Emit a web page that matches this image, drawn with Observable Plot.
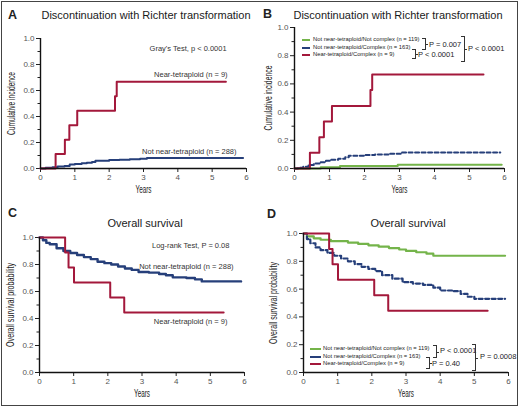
<!DOCTYPE html>
<html><head><meta charset="utf-8">
<script src="https://cdn.jsdelivr.net/npm/d3@7"></script>
<script src="https://cdn.jsdelivr.net/npm/@observablehq/plot@0.6"></script>
<style>
body{margin:0;background:#fff;}
#fig{position:relative;width:520px;height:409px;font-family:"Liberation Sans",Arial,sans-serif;color:#222;overflow:hidden;}
.frame{position:absolute;left:1px;top:1px;width:515px;height:403px;border:1px solid #444;}
.pl{position:absolute;}
.title{position:absolute;font-size:11px;transform:translate(-50%,-50%);white-space:nowrap;color:#1a1a1a;}
.letter{position:absolute;font-size:12.5px;font-weight:bold;transform:translateY(-50%);font-family:Arial,"Liberation Sans",sans-serif;}
.leg{position:absolute;font-size:5.8px;white-space:nowrap;transform:translateY(-50%);line-height:1;}
.sw{position:absolute;height:0;}
.br{position:absolute;border:1px solid #333;border-left:none;width:3px;}
.br::after{content:"";position:absolute;left:3px;top:50%;width:3px;border-top:1px solid #333;}
.pv{position:absolute;font-size:7.5px;white-space:nowrap;transform:translateY(-50%);line-height:1;}
</style></head>
<body><div id="fig"><div class="frame"></div></div>
<script>
// ---------- data ----------
const xTicks = [0, 1, 2, 3, 4, 5, 6];
const majorY = [0, 0.2, 0.4, 0.6, 0.8, 1.0];
const minorY = [0.1, 0.3, 0.5, 0.7, 0.9];

// Cumulative incidence of discontinuation with Richter transformation
const richterNearT = [0, 0.44, 0.71, 0.84, 1.07, 2.17, 2.22, 5.40];
const richterNearV = [0, 0.111, 0.222, 0.333, 0.444, 0.556, 0.667, 0.667];
const richterNotT = [0, 0.15, 0.35, 0.5, 0.7, 0.85, 1.0, 1.2, 1.35, 1.5, 1.6, 2.0, 2.3, 2.6, 2.9, 3.1, 5.9];
const richterNotV = [0, 0.005, 0.01, 0.015, 0.02, 0.03, 0.035, 0.04, 0.045, 0.05, 0.06, 0.065, 0.068, 0.072, 0.075, 0.08, 0.08];
const richterCxT = [0, 0.1, 0.25, 0.4, 0.55, 0.75, 0.9, 1.05, 1.25, 1.45, 1.55, 2.0, 2.3, 2.7, 3.05, 5.88];
const richterCxV = [0, 0.006, 0.012, 0.025, 0.035, 0.045, 0.055, 0.062, 0.07, 0.08, 0.09, 0.095, 0.1, 0.105, 0.113, 0.113];
const richterNcT = [0, 0.75, 1.3, 2.95, 5.92];
const richterNcV = [0, 0.008, 0.017, 0.026, 0.026];

// Overall survival
const osNearT = [0, 0.75, 0.85, 1.01, 2.07, 2.48, 5.39];
const osNearV = [1, 0.889, 0.778, 0.667, 0.556, 0.444, 0.444];
const osNotT = [0, 0.1, 0.2, 0.3, 0.5, 0.7, 0.9, 1.1, 1.3, 1.5, 1.7, 1.9, 2.1, 2.3, 2.5, 2.7, 2.9, 3.2, 3.5, 3.7, 3.9, 4.3, 4.55, 4.75, 5.9];
const osNotV = [1, 0.98, 0.96, 0.95, 0.92, 0.9, 0.885, 0.87, 0.855, 0.84, 0.82, 0.81, 0.8, 0.785, 0.77, 0.76, 0.745, 0.74, 0.73, 0.72, 0.705, 0.7, 0.69, 0.675, 0.675];
const osNcT = [0, 0.1, 0.3, 0.5, 0.8, 1.3, 1.6, 1.9, 2.2, 2.5, 2.8, 3.0, 3.3, 3.6, 3.8, 5.9];
const osNcV = [1, 0.98, 0.965, 0.955, 0.945, 0.935, 0.925, 0.915, 0.905, 0.895, 0.885, 0.875, 0.865, 0.855, 0.84, 0.84];
const osCxT = [0, 0.1, 0.2, 0.35, 0.5, 0.7, 0.9, 1.1, 1.3, 1.5, 1.7, 1.9, 2.1, 2.3, 2.6, 2.9, 3.2, 3.5, 3.8, 4.0, 4.4, 4.6, 4.8, 5.0, 5.9];
const osCxV = [1, 0.96, 0.93, 0.9, 0.88, 0.86, 0.84, 0.82, 0.8, 0.78, 0.76, 0.745, 0.73, 0.7, 0.675, 0.65, 0.64, 0.63, 0.61, 0.59, 0.585, 0.565, 0.545, 0.53, 0.53];

const annA = [
  {x: 5.42, y: 0.92, label: "Gray's Test, p < 0.0001"},
  {x: 5.45, y: 0.72, label: "Near-tetraploid (n = 9)"},
  {x: 5.71, y: 0.13, label: "Not near-tetraploid (n = 288)"}
];
const annC = [
  {x: 5.56, y: 0.94, label: "Log-rank Test, P = 0.08"},
  {x: 5.68, y: 0.785, label: "Not near-tetraploid (n = 288)"},
  {x: 5.50, y: 0.378, label: "Near-tetraploid (n = 9)"}
];
const legB = ["Not near-tetraploid/Not complex (n = 119)", "Not near-tetraploid/Complex (n = 163)", "Near-tetraploid/Complex (n = 9)"];
const legD = ["Not near-tetraploid/Not complex (n = 119)", "Not near-tetraploid/Complex (n = 163)", "Near-tetraploid/Complex (n = 9)"];
const pB = ["P = 0.007", "P < 0.0001", "P < 0.0001"];
const pD = ["P < 0.0001", "P = 0.40", "P = 0.0008"];

const RED = "#a3183b", NAVY = "#263f7a", GREEN = "#74b44a";
const pts = (t, v) => t.map((x, i) => ({x, y: v[i]}));

// ---------- panels ----------
const fig = document.getElementById("fig");
function condense(svg, sel, len, size) {
  svg.querySelectorAll(sel).forEach(t => {
    t.style.fontSize = size + "px";
    t.setAttribute("textLength", len);
    t.setAttribute("lengthAdjust", "spacingAndGlyphs");
  });
}
function panel(c) {
  const marks = [
    Plot.axisY(minorY, {tickSize: 2.5, tickFormat: () => "", label: null, stroke: "#222"}),
    Plot.axisY(majorY, {tickSize: 4, tickPadding: 2, tickFormat: d3.format(".1f"), fill: "#555", stroke: "#222", label: null}),
    Plot.axisY([], {label: c.ylabel, labelAnchor: "center", labelArrow: "none", labelOffset: c.ylo, fill: "#222"}),
    Plot.axisX(xTicks, {tickSize: 4, tickPadding: 2, fill: "#555", stroke: "#222", label: null}),
    Plot.axisX([], {label: "Years", labelAnchor: "center", labelArrow: "none", labelOffset: 24, fill: "#222"}),
  ];
  for (const s of c.series) {
    marks.push(Plot.line(pts(s.t, s.v), {x: "x", y: "y", curve: "step-after", stroke: s.color,
      strokeWidth: s.w || 2, strokeDasharray: s.dash || null}));
  }
  marks.push(Plot.ruleX([0], {stroke: "#111", strokeWidth: 1.4}));
  marks.push(Plot.ruleY([0], {stroke: "#111", strokeWidth: 1.4}));
  if (c.ann) marks.push(Plot.text(c.ann, {x: "x", y: "y", text: "label", textAnchor: "end", fontSize: 7.5, fill: "#333"}));
  const svg = Plot.plot({
    width: c.w, height: c.h,
    marginLeft: c.ml, marginRight: c.mr, marginTop: c.mt, marginBottom: c.mb,
    x: {domain: [0, 6]}, y: {domain: [0, 1]},
    style: {fontFamily: "Liberation Sans, Arial, sans-serif", fontSize: "8px", color: "#222", background: "transparent", overflow: "visible"},
    marks
  });
  condense(svg, '[aria-label="y-axis label"] text', c.ylen, 10);
  condense(svg, '[aria-label="x-axis label"] text', 16, 10.5);
  const d = document.createElement("div");
  d.className = "pl"; d.style.left = c.left + "px"; d.style.top = c.top + "px";
  d.appendChild(svg);
  fig.appendChild(d);
}

panel({left: 0, top: 0, w: 260, h: 200, ml: 40, mr: 14, mt: 38, mb: 32, ylabel: "Cumulative incidence", ylo: 33, ylen: 63,
  series: [{t: richterNotT, v: richterNotV, color: NAVY}, {t: richterNearT, v: richterNearV, color: RED}], ann: annA});
panel({left: 260, top: 0, w: 260, h: 200, ml: 34, mr: 16, mt: 27, mb: 32, ylabel: "Cumulative incidence", ylo: 29.5, ylen: 65,
  series: [{t: richterNcT, v: richterNcV, color: GREEN}, {t: richterCxT, v: richterCxV, color: NAVY, dash: "4,2.5"},
           {t: richterNearT, v: richterNearV, color: RED}]});
panel({left: 0, top: 200, w: 260, h: 209, ml: 39, mr: 16, mt: 37, mb: 37, ylabel: "Overall survival probability", ylo: 32.5, ylen: 84,
  series: [{t: osNotT, v: osNotV, color: NAVY, w: 2.4}, {t: osNearT, v: osNearV, color: RED}], ann: annC});
panel({left: 260, top: 200, w: 260, h: 209, ml: 43, mr: 12, mt: 33, mb: 37, ylabel: "Overall survival probability", ylo: 33.5, ylen: 82,
  series: [{t: osNcT, v: osNcV, color: GREEN, w: 2.2}, {t: osCxT, v: osCxV, color: NAVY, dash: "4,2.5", w: 2.2},
           {t: osNearT, v: osNearV, color: RED}]});

// ---------- titles, letters ----------
function add(cls, html, x, y, extra) {
  const e = document.createElement("div");
  e.className = cls; e.innerHTML = html;
  e.style.left = x + "px"; e.style.top = y + "px";
  if (extra) Object.assign(e.style, extra);
  fig.appendChild(e);
  return e;
}
add("letter", "A", 8, 15); add("letter", "B", 263, 14); add("letter", "C", 8, 213); add("letter", "D", 267, 214);
add("title", "Discontinuation with Richter transformation", 146, 15);
add("title", "Discontinuation with Richter transformation", 398, 15);
add("title", "Overall survival", 145, 223);
add("title", "Overall survival", 408, 223);

// ---------- legends ----------
const legColors = [GREEN, NAVY, RED];
const legDash = ["solid", "dashed", "solid"];
function legend(labels, x0, x1, xt, ys) {
  labels.forEach((l, i) => {
    add("sw", "", x0, ys[i] - 1, {width: (x1 - x0) + "px", borderTop: "2px " + legDash[i] + " " + legColors[i]});
    add("leg", l, xt, ys[i]);
  });
}
legend(legB, 302, 310, 313, [40, 47.5, 55]);
legend(legD, 310, 321, 323, [349, 356.5, 364]);
function bracket(xr, y0, y1) { add("br", "", xr - 3, y0, {height: (y1 - y0) + "px"}); }
bracket(425, 38, 48); add("pv", pB[0], 429, 44.5);
bracket(415, 49, 57); add("pv", pB[1], 418, 55);
bracket(464, 36, 60); add("pv", pB[2], 468, 48.5);
bracket(436, 345, 356); add("pv", pD[0], 440, 351);
bracket(429, 357, 367); add("pv", pD[1], 432, 364);
bracket(475, 344, 369); add("pv", pD[2], 480, 357);
</script></body></html>
